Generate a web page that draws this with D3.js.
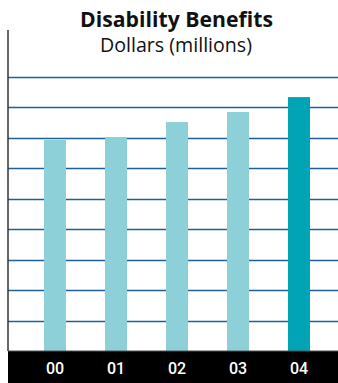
<!DOCTYPE html>
<html><head><meta charset="utf-8">
<script src="https://cdn.jsdelivr.net/npm/d3@7"></script>
<style>html,body{margin:0;padding:0;background:#fff;}svg{display:block;}</style>
</head><body>
<svg id="chart" width="338" height="383"></svg>
<script>
const title = "Disability Benefits";
const subtitle = "Dollars (millions)";
const categories = ["00", "01", "02", "03", "04"];
const values = [69.3, 70.3, 75.2, 78.5, 83.4];
const gridTicks = [10, 20, 30, 40, 50, 60, 70, 80, 90];
const highlight = ["04"];

const W = 338, H = 383;
const plotLeft = 8, plotRight = 338, plotTop = 30, baseline = 351;
const svg = d3.select("#chart");

const y = d3.scaleLinear().domain([0, 90]).range([baseline, 77]);
const x = d3.scaleBand().domain(categories).range([24.5, 329.5])
  .paddingInner(39/61).paddingOuter(39/122);

// gridlines
svg.append("g").selectAll("line").data(gridTicks).join("line")
  .attr("x1", plotLeft).attr("x2", plotRight)
  .attr("y1", d => Math.round(y(d)) + 0.5).attr("y2", d => Math.round(y(d)) + 0.5)
  .attr("stroke", "#1d5f98").attr("stroke-width", 1.4);

// bars
svg.append("g").selectAll("rect").data(categories).join("rect")
  .attr("x", d => x(d)).attr("width", x.bandwidth())
  .attr("y", (d, i) => y(values[i])).attr("height", (d, i) => baseline - y(values[i]))
  .attr("fill", d => highlight.includes(d) ? "#00a4b4" : "#8dd0d8");

// black band + axis
svg.append("rect").attr("x", plotLeft).attr("y", baseline).attr("width", plotRight - plotLeft).attr("height", H - baseline).attr("fill", "#000");
svg.append("line").attr("x1", plotLeft).attr("x2", plotRight).attr("y1", baseline).attr("y2", baseline).attr("stroke", "#555").attr("stroke-width", 1);
svg.append("line").attr("x1", plotLeft).attr("x2", plotLeft).attr("y1", plotTop).attr("y2", baseline).attr("stroke", "#333").attr("stroke-width", 1.5);

const xAxis = d3.axisBottom(x).tickSize(0).tickPadding(0);
const gx = svg.append("g").attr("transform", `translate(0,${baseline})`).call(xAxis);
gx.select(".domain").remove();
gx.selectAll("text").attr("fill", "#fff").attr("dy", null).attr("y", 23)
  .style("font-family", "Roboto, sans-serif").style("font-size", "16px").style("font-weight", "500");

function fitText(sel, target) {
  const w = sel.node().getComputedTextLength();
  const fs = parseFloat(sel.style("font-size"));
  sel.style("font-size", (fs * target / w).toFixed(2) + "px");
}
const t1 = svg.append("text").attr("x", 176.5).attr("y", 27).attr("text-anchor", "middle")
  .style("font-family", "'Open Sans', sans-serif").style("font-size", "18px").style("font-weight", "bold").attr("fill", "#111").text(title);
fitText(t1, 193);
const t2 = svg.append("text").attr("x", 176).attr("y", 52).attr("text-anchor", "middle")
  .style("font-family", "'Open Sans', sans-serif").style("font-size", "16px").attr("fill", "#111").text(subtitle);
fitText(t2, 152);
</script>
</body></html>
